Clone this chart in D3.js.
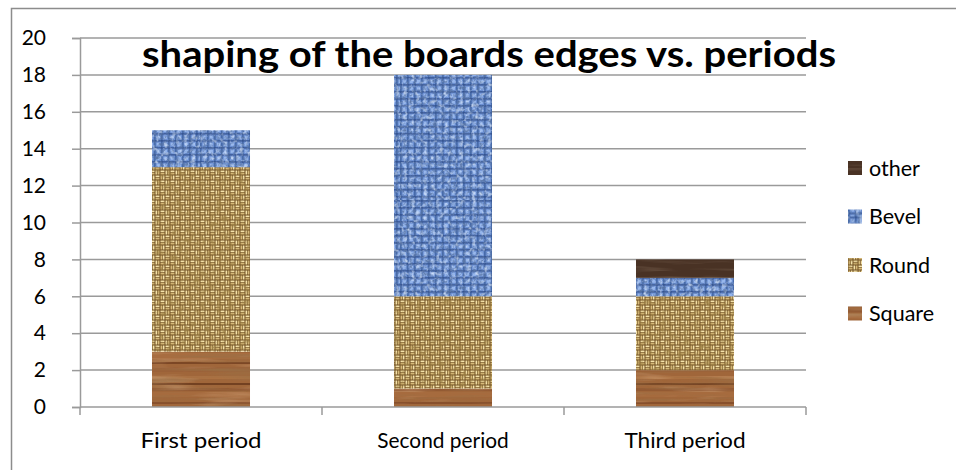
<!DOCTYPE html>
<html>
<head>
<meta charset="utf-8">
<script src="https://cdn.jsdelivr.net/npm/d3@7"></script>
<style>
  html, body { margin: 0; padding: 0; background: #fff; }
  svg { display: block; }
</style>
</head>
<body>
<svg id="chart" width="956" height="470"></svg>
<script>
// Counts of board-edge shapes per period
const categories = ["First period", "Second period", "Third period"];
const seriesNames = ["Square", "Round", "Bevel", "other"];
const squareValues = [3, 1, 2];
const roundValues = [10, 5, 4];
const bevelValues = [2, 12, 1];
const otherValues = [0, 0, 1];
const yTicks = [0, 2, 4, 6, 8, 10, 12, 14, 16, 18, 20];
const titleText = "shaping of the boards edges vs. periods";

const seriesValues = { Square: squareValues, Round: roundValues, Bevel: bevelValues, other: otherValues };
const table = categories.map((c, i) => {
  const row = { category: c };
  seriesNames.forEach(k => { row[k] = seriesValues[k][i]; });
  return row;
});

const svg = d3.select("#chart");
const defs = svg.append("defs");

// ---- texture fills ----
function grainFilter(id, freq, rgb, alphaScale, alphaBias) {
  const f = defs.append("filter").attr("id", id)
    .attr("x", 0).attr("y", 0).attr("width", 1).attr("height", 1);
  f.append("feTurbulence").attr("type", "fractalNoise")
    .attr("baseFrequency", freq).attr("numOctaves", 3).attr("seed", 4).attr("result", "n");
  f.append("feColorMatrix").attr("in", "n").attr("type", "matrix")
    .attr("values", `0 0 0 0 ${rgb[0]}  0 0 0 0 ${rgb[1]}  0 0 0 0 ${rgb[2]}  ${alphaScale} 0 0 0 ${alphaBias}`)
    .attr("result", "c");
  f.append("feComposite").attr("in", "c").attr("in2", "SourceGraphic").attr("operator", "in");
}
grainFilter("woodGrain", "0.01 0.22", [0.32, 0.16, 0.06], 2.0, -0.9);
grainFilter("woodLight", "0.015 0.18", [0.78, 0.52, 0.32], 1.5, -0.8);
grainFilter("darkGrain", "0.015 0.25", [0.40, 0.29, 0.21], 1.2, -0.6);
grainFilter("blueSpeck", "0.3 0.3", [0.10, 0.18, 0.38], 2.4, -1.0);
grainFilter("blueLight", "0.25 0.25", [0.74, 0.84, 0.99], 2.0, -1.0);
grainFilter("tanSpeck", "0.18 0.18", [0.34, 0.22, 0.06], 2.0, -0.95);
const soft = defs.append("filter").attr("id", "soft");
soft.append("feGaussianBlur").attr("stdDeviation", 0.35);

// wood
const wood = defs.append("pattern").attr("id", "pSquare")
  .attr("patternUnits", "userSpaceOnUse").attr("width", 300).attr("height", 56);
wood.append("rect").attr("width", 300).attr("height", 56).attr("fill", "#a0663a");
[[0, 5, "#a96e40"], [10, 2, "#7e4726"], [17, 6, "#ab7143"], [26, 2, "#6c3a1c"],
 [31, 5, "#996038"], [40, 3, "#b07646"], [47, 2, "#5f3217"], [52, 3, "#8d5530"]]
  .forEach(([y, h, c]) => wood.append("rect").attr("y", y).attr("width", 300).attr("height", h).attr("fill", c).attr("opacity", 0.7));
wood.append("rect").attr("width", 300).attr("height", 56).attr("fill", "#fff").attr("filter", "url(#woodGrain)");
wood.append("rect").attr("width", 300).attr("height", 56).attr("fill", "#fff").attr("filter", "url(#woodLight)").attr("opacity", 0.6);

// basket weave (tan)
const weave = defs.append("pattern").attr("id", "pRound")
  .attr("patternUnits", "userSpaceOnUse").attr("width", 10).attr("height", 10);
weave.append("rect").attr("width", 10).attr("height", 10).attr("fill", "#6e4f22");
const wg = weave.append("g").attr("filter", "url(#soft)");
const wl = "#f4e2aa", wm = "#d6b979";
[[0.5, 0.5, 4.0, 1.7, wl], [0.5, 2.8, 4.0, 1.7, wm],
 [5.5, 0.5, 1.7, 4.0, wl], [7.8, 0.5, 1.7, 4.0, wm],
 [0.5, 5.5, 1.7, 4.0, wm], [2.8, 5.5, 1.7, 4.0, wl],
 [5.5, 5.5, 4.0, 1.7, wl], [5.5, 7.8, 4.0, 1.7, wm]]
  .forEach(([x, y, w, h, c]) => wg.append("rect").attr("x", x).attr("y", y).attr("width", w).attr("height", h).attr("fill", c));
const weaveOver = defs.append("pattern").attr("id", "pRoundTex")
  .attr("patternUnits", "userSpaceOnUse").attr("width", 200).attr("height", 200);
weaveOver.append("rect").attr("width", 200).attr("height", 200).attr("fill", "url(#pRound)");
weaveOver.append("rect").attr("width", 200).attr("height", 200).attr("fill", "#fff").attr("filter", "url(#tanSpeck)");

// blue canvas
const blue = defs.append("pattern").attr("id", "pBevelBase")
  .attr("patternUnits", "userSpaceOnUse").attr("width", 7).attr("height", 7);
blue.append("rect").attr("width", 7).attr("height", 7).attr("fill", "#6b8fd2");
const bg = blue.append("g").attr("filter", "url(#soft)");
bg.append("rect").attr("width", 7).attr("height", 1.7).attr("fill", "#2c4a86").attr("opacity", 0.65);
bg.append("rect").attr("width", 1.7).attr("height", 7).attr("fill", "#2c4a86").attr("opacity", 0.55);
bg.append("rect").attr("x", 2.7).attr("y", 2.7).attr("width", 3.2).attr("height", 3.2).attr("fill", "#a6c4f6").attr("opacity", 0.75);
const blueTex = defs.append("pattern").attr("id", "pBevel")
  .attr("patternUnits", "userSpaceOnUse").attr("width", 200).attr("height", 200);
blueTex.append("rect").attr("width", 200).attr("height", 200).attr("fill", "url(#pBevelBase)");
blueTex.append("rect").attr("width", 200).attr("height", 200).attr("fill", "#fff").attr("filter", "url(#blueSpeck)");
blueTex.append("rect").attr("width", 200).attr("height", 200).attr("fill", "#fff").attr("filter", "url(#blueLight)");

// dark wood
const dark = defs.append("pattern").attr("id", "pOther")
  .attr("patternUnits", "userSpaceOnUse").attr("width", 200).attr("height", 40);
dark.append("rect").attr("width", 200).attr("height", 40).attr("fill", "#493224");
dark.append("rect").attr("width", 200).attr("height", 40).attr("fill", "#fff").attr("filter", "url(#darkGrain)").attr("opacity", 0.6);

const fills = { Square: "url(#pSquare)", Round: "url(#pRoundTex)", Bevel: "url(#pBevel)", other: "url(#pOther)" };

// ---- frame ----
svg.append("path").attr("d", "M11.5,470 V8.5 H956")
  .attr("fill", "none").attr("stroke", "#8c8c8c").attr("stroke-width", 1.5);

// ---- scales ----
const x = d3.scaleBand().domain(categories).range([80, 806]).paddingInner(0.595).paddingOuter(0.2975);
const y = d3.scaleLinear().domain([0, 20]).range([407, 38]);
const gridColor = "#9a9a9a";
const font = "Lato, 'Open Sans', sans-serif";

// gridlines
svg.append("g").selectAll("line").data(yTicks.filter(t => t > 0)).join("line")
  .attr("x1", 80).attr("x2", 806)
  .attr("y1", d => y(d)).attr("y2", d => y(d))
  .attr("stroke", gridColor).attr("stroke-width", 1.5);

// y axis
const yAxis = svg.append("g").attr("transform", "translate(80,0)")
  .call(d3.axisLeft(y).tickValues(yTicks).tickSize(8).tickPadding(26));
yAxis.select(".domain").attr("stroke", gridColor).attr("stroke-width", 1.5);
yAxis.selectAll(".tick line").attr("stroke", gridColor).attr("stroke-width", 1.5);
yAxis.selectAll(".tick text").attr("font-family", font).attr("font-size", 21).attr("fill", "#000");

// bars
const stacked = d3.stack().keys(seriesNames)(table);
svg.append("g").selectAll("g").data(stacked).join("g")
  .attr("fill", d => fills[d.key])
  .selectAll("rect").data(d => d.filter(s => s[1] - s[0] > 0)).join("rect")
  .attr("x", d => x(d.data.category))
  .attr("width", x.bandwidth())
  .attr("y", d => y(d[1]))
  .attr("height", d => y(d[0]) - y(d[1]));

// x axis
const xAxis = svg.append("g").attr("transform", "translate(0,407)");
xAxis.append("line").attr("x1", 80).attr("x2", 806).attr("stroke", gridColor).attr("stroke-width", 1.5);
const bounds = [80].concat(categories.map(c => x(c) + x.bandwidth() / 2 + x.step() / 2));
xAxis.selectAll("line.tk").data(bounds).join("line").attr("class", "tk")
  .attr("x1", d => d).attr("x2", d => d).attr("y1", 0).attr("y2", 8)
  .attr("stroke", gridColor).attr("stroke-width", 1.5);
xAxis.selectAll("text").data(categories).join("text")
  .attr("x", d => x(d) + x.bandwidth() / 2).attr("y", 41)
  .attr("text-anchor", "middle")
  .attr("font-family", font).attr("font-size", 21)
  .attr("textLength", d => d.length * 10.1).attr("lengthAdjust", "spacingAndGlyphs")
  .text(d => d);

// title
svg.append("text").attr("x", 489).attr("y", 67)
  .attr("text-anchor", "middle")
  .attr("font-family", font).attr("font-weight", "bold").attr("font-size", 36)
  .attr("textLength", 694).attr("lengthAdjust", "spacingAndGlyphs")
  .text(titleText);

// legend (top entry is the last stacked series)
const legendItems = seriesNames.slice().reverse();
const lg = svg.append("g").selectAll("g").data(legendItems).join("g")
  .attr("transform", (d, i) => `translate(848,${168 + i * 48.5})`);
lg.append("rect").attr("x", 0).attr("y", -7).attr("width", 14).attr("height", 14).attr("fill", d => fills[d]);
lg.append("text").attr("x", 21).attr("y", 7.5)
  .attr("font-family", font).attr("font-size", 21.5)
  .text(d => d);
</script>
</body>
</html>
